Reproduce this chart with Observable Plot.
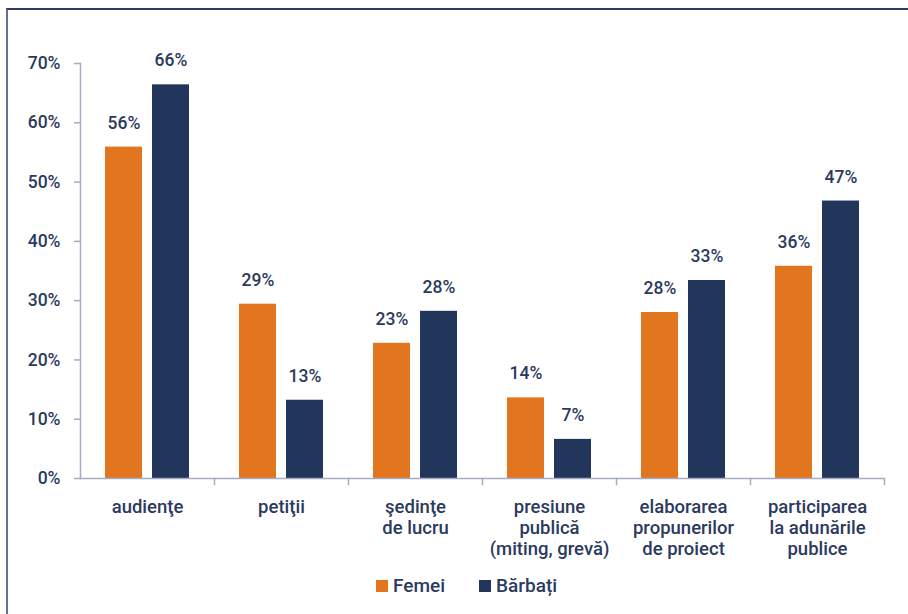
<!DOCTYPE html>
<html>
<head>
<meta charset="utf-8">
<script src="https://cdn.jsdelivr.net/npm/d3@7"></script>
<script src="https://cdn.jsdelivr.net/npm/@observablehq/plot@0.6"></script>
<style>
  html, body { margin: 0; padding: 0; background: #fff; overflow: hidden; width: 908px; height: 614px; }
  #frame { position: absolute; left: 6px; top: 8px; width: 1000px; height: 700px;
           border-left: 2px solid #62709a; border-top: 2px solid #2b3a5e; box-sizing: border-box; }
  #chart { position: absolute; left: 0; top: 0; font-family: Roboto, sans-serif; color: #2b3a5e; }
  #legend { display: flex; gap: 0; padding-left: 376px; margin-top: 5px; font-size: 19px; font-weight: 500; line-height: 22px; }
  .item { display: flex; align-items: center; margin-right: 34px; }
  .sw { width: 12px; height: 12px; margin-right: 5px; }
</style>
</head>
<body>
<div id="frame"></div>
<div id="chart"></div>
<script>
const categories = [
  "audienţe",
  "petiţii",
  "şedinţe\nde lucru",
  "presiune\npublică\n(miting, grevă)",
  "elaborarea\npropunerilor\nde proiect",
  "participarea\nla adunările\npublice"
];
const seriesNames = ["Femei", "Bărbați"];
const femei   = [55.9, 29.4, 22.8, 13.6, 28.0, 35.8];
const barbati = [66.4, 13.2, 28.2, 6.6, 33.4, 46.8];
const yTicks = [0, 10, 20, 30, 40, 50, 60, 70];
const colors = ["#E2761E", "#22355B"];

const data = categories.flatMap((c, i) => [
  {cat: c, series: seriesNames[0], value: femei[i]},
  {cat: c, series: seriesNames[1], value: barbati[i]}
]);

const axisColor = "#a3acc2";
const textColor = "#2b3a5e";

const chart = Plot.plot({
  width: 908,
  height: 570,
  marginTop: 63,
  marginBottom: 92,
  marginLeft: 78,
  marginRight: 23,
  style: {fontFamily: "Roboto, sans-serif", color: textColor, background: "transparent"},
  fx: {domain: categories, padding: 0, label: null, axis: null},
  x: {domain: seriesNames, paddingInner: 0.208, paddingOuter: 0.51, axis: null, label: null},
  y: {domain: [0, 70], axis: null, label: null},
  color: {domain: seriesNames, range: colors},
  marks: [
    Plot.barY(data, {fx: "cat", x: "series", y: "value", fill: "series"}),
    Plot.text(data, {fx: "cat", x: "series", y: "value", text: d => Math.round(d.value) + "%",
      dy: -24, fontSize: 17.5, fontWeight: 500, fill: textColor}),
    Plot.ruleY([0], {stroke: axisColor, strokeWidth: 1.5}),
    Plot.frame({anchor: "left", facetAnchor: "left", stroke: axisColor, strokeWidth: 1.5}),
    Plot.frame({anchor: "right", insetTop: 415, insetBottom: -6, stroke: axisColor, strokeWidth: 1.5}),
    Plot.axisY({ticks: yTicks, tickSize: 6, text: null, label: null, stroke: axisColor, strokeWidth: 1.5}),
    Plot.axisY({ticks: yTicks, tickSize: 0, tickPadding: 20, label: null, tickFormat: d => d + "%",
      fontSize: 17.5, fontWeight: 500, fill: textColor}),
    Plot.axisFx({anchor: "bottom", tickSize: 0, tickPadding: 20, label: null,
      fontSize: 18.5, fontWeight: 500, lineHeight: 1.135, fill: textColor})
  ]
});

const host = document.getElementById("chart");
host.appendChild(chart);

const legend = document.createElement("div");
legend.id = "legend";
seriesNames.forEach((s, i) => {
  const item = document.createElement("div");
  item.className = "item";
  const sw = document.createElement("span");
  sw.className = "sw";
  sw.style.background = colors[i];
  const t = document.createElement("span");
  t.textContent = s;
  item.appendChild(sw);
  item.appendChild(t);
  legend.appendChild(item);
});
host.appendChild(legend);
</script>
</body>
</html>
